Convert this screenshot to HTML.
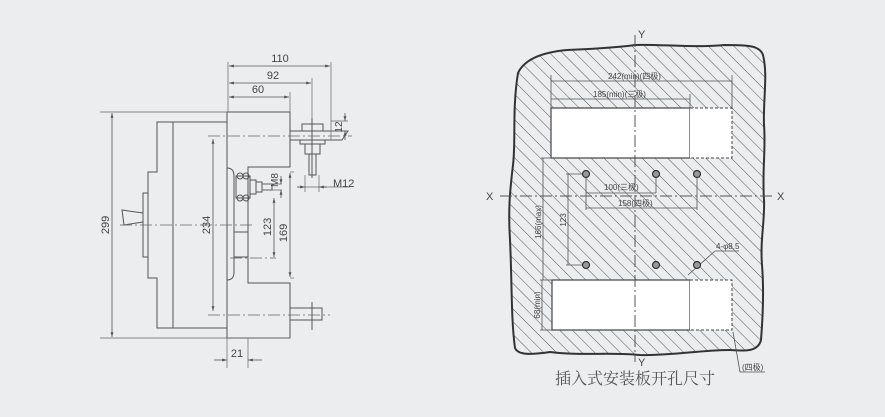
<!DOCTYPE html>
<html><head><meta charset="utf-8"><style>
html,body{margin:0;padding:0;background:#ecedef;}
svg{display:block;}
text{font-family:"Liberation Sans",sans-serif;fill:#444;}
</style></head><body>
<svg width="885" height="417" viewBox="0 0 885 417" xmlns="http://www.w3.org/2000/svg">
<defs>
<pattern id="h" patternUnits="userSpaceOnUse" width="9" height="9" patternTransform="rotate(-45)">
<line x1="0" y1="0" x2="0" y2="9" stroke="#555" stroke-width="1"/>
</pattern>
<marker id="a" viewBox="0 0 10 10" refX="10" refY="5" markerWidth="6" markerHeight="6" orient="auto-start-reverse"><path d="M0,2 L10,5 L0,8z" fill="#555"/></marker>
</defs>
<rect width="885" height="417" fill="#ecedef"/>

<!-- LEFT DRAWING -->
<g stroke="#555" stroke-width="1" fill="none">
<path d="M227,122 H157 V172 H148 V278 H157 V328 H227"/>
<line x1="173" y1="122" x2="173" y2="328"/>
<rect x="143" y="193" width="5" height="64"/>
<path d="M143,213 L122,210 L124,225 L143,222"/>
<path d="M227,112 H290 V167 H248 V283 H290 V338 H227 Z"/>
<path d="M227,168 Q234,168 234,176 V272 Q234,280 227,280"/>
<path d="M290,131 H348 L342,140 H290"/>
<rect x="302" y="124" width="21" height="7"/>
<rect x="300" y="140" width="25" height="4"/>
<rect x="305" y="144" width="15" height="10"/>
<rect x="309" y="154" width="7" height="21"/>
<line x1="312" y1="118" x2="312" y2="178"/>
<rect x="236" y="176" width="14" height="22"/>
<circle cx="240" cy="176" r="3"/><circle cx="246" cy="176" r="3"/>
<circle cx="240" cy="198" r="3"/><circle cx="246" cy="198" r="3"/>
<rect x="250" y="180" width="6" height="14"/>
<rect x="256" y="182" width="6" height="10"/>
<rect x="262" y="184" width="10" height="6"/>
<rect x="290" y="308" width="32" height="12"/>
<line x1="312" y1="302" x2="312" y2="330"/>
<line x1="234" y1="232" x2="248" y2="232"/>
<line x1="234" y1="257" x2="248" y2="257"/>
</g>
<g stroke="#666" stroke-width="0.8" fill="none" stroke-dasharray="12,3,2,3">
<line x1="208" y1="136" x2="352" y2="136"/>
<line x1="120" y1="225" x2="252" y2="225"/>
<line x1="208" y1="315" x2="330" y2="315"/>
<line x1="230" y1="258" x2="276" y2="258"/>
</g>
<g stroke="#666" stroke-width="0.7" fill="none">
<line x1="100" y1="112" x2="227" y2="112"/>
<line x1="100" y1="338" x2="290" y2="338"/>
<line x1="228" y1="62" x2="228" y2="112"/>
<line x1="331" y1="62" x2="331" y2="140"/>
<line x1="312" y1="78" x2="312" y2="118"/>
<line x1="290" y1="92" x2="290" y2="112"/>
<line x1="227" y1="338" x2="227" y2="368"/>
<line x1="248" y1="338" x2="248" y2="368"/>
<line x1="298" y1="187" x2="350" y2="187"/>
<line x1="305" y1="175" x2="305" y2="192"/>
<line x1="319" y1="175" x2="319" y2="192"/>
<line x1="262" y1="184" x2="282" y2="184"/>
<line x1="262" y1="190" x2="282" y2="190"/>
<line x1="331" y1="121" x2="348" y2="121"/>
<line x1="331" y1="131" x2="348" y2="131"/>
<line x1="290" y1="172" x2="294" y2="172"/>
<line x1="290" y1="278" x2="294" y2="278"/>
</g>
<g stroke="#555" stroke-width="0.8" fill="none" marker-start="url(#a)" marker-end="url(#a)">
<line x1="229" y1="66" x2="330" y2="66"/>
<line x1="229" y1="83" x2="311" y2="83"/>
<line x1="229" y1="97" x2="289" y2="97"/>
<line x1="112" y1="113" x2="112" y2="337"/>
<line x1="213" y1="139" x2="213" y2="311"/>
<line x1="274" y1="198" x2="274" y2="257"/>
<line x1="290" y1="173" x2="290" y2="277"/>
</g>
<g stroke="#555" stroke-width="0.8" fill="none">
<line x1="214" y1="360" x2="227" y2="360" marker-end="url(#a)"/>
<line x1="262" y1="360" x2="248" y2="360" marker-end="url(#a)"/>
<line x1="297" y1="187" x2="305" y2="187" marker-end="url(#a)"/>
<line x1="327" y1="187" x2="319" y2="187" marker-end="url(#a)"/>
<line x1="345" y1="113" x2="345" y2="121" marker-end="url(#a)"/>
<line x1="345" y1="140" x2="345" y2="131" marker-end="url(#a)"/>
<line x1="281" y1="176" x2="281" y2="184" marker-end="url(#a)"/>
<line x1="281" y1="198" x2="281" y2="190" marker-end="url(#a)"/>
</g>
<g font-size="11">
<text x="280" y="62" text-anchor="middle">110</text>
<text x="273" y="79" text-anchor="middle">92</text>
<text x="258" y="93" text-anchor="middle">60</text>
<text x="237" y="357" text-anchor="middle">21</text>
<text x="333" y="187">M12</text>
<text transform="translate(109,225) rotate(-90)" text-anchor="middle">299</text>
<text transform="translate(210,225) rotate(-90)" text-anchor="middle">234</text>
<text transform="translate(271,227) rotate(-90)" text-anchor="middle">123</text>
<text transform="translate(287,233) rotate(-90)" text-anchor="middle">169</text>
<text transform="translate(278,180) rotate(-90)" text-anchor="middle" font-size="10">M8</text>
<text transform="translate(342,127) rotate(-90)" text-anchor="middle" font-size="10">12</text>
</g>

<!-- RIGHT DRAWING -->
<path d="M518,73 C525,58 545,52 567,50 C590,49 615,48 635,45 C660,44 690,48 725,45 C750,45 760,46 763,55 C768,75 763,100 764,125 C766,150 762,170 764,200 C765,220 760,240 762,265 C764,290 763,315 761,340 C758,352 745,351 730,350 C700,350 670,356 640,355 C610,352 580,356 550,352 C530,355 518,355 515,348 C511,320 512,280 510,240 C508,210 510,190 513,165 C516,140 512,110 518,73 Z" fill="url(#h)" stroke="#333" stroke-width="2"/>
<g stroke="#444" stroke-width="1.2" fill="#fff">
<rect x="551" y="108" width="139" height="50"/>
<rect x="552" y="280" width="138" height="50"/>
</g>
<g fill="#fff" stroke="none">
<rect x="690" y="108" width="42" height="50"/>
<rect x="690" y="280" width="42" height="50"/>
</g>
<g stroke="#444" stroke-width="1" fill="none" stroke-dasharray="3,2">
<path d="M690,108 H732 V158 H690"/>
<path d="M690,280 H732 V330 H690"/>
</g>
<g stroke="#555" stroke-width="1" fill="none" stroke-dasharray="12,3,2,3">
<line x1="635" y1="35" x2="635" y2="362"/>
<line x1="500" y1="196" x2="775" y2="196"/>
</g>
<g stroke="#555" stroke-width="0.8" fill="none">
<line x1="551" y1="75" x2="551" y2="108"/>
<line x1="732" y1="75" x2="732" y2="108"/>
<line x1="690" y1="94" x2="690" y2="108"/>
<line x1="551" y1="81" x2="732" y2="81"/>
<line x1="551" y1="99" x2="690" y2="99"/>
<line x1="586" y1="174" x2="586" y2="210"/>
<line x1="656" y1="174" x2="656" y2="193"/>
<line x1="697" y1="174" x2="697" y2="210"/>
<line x1="586" y1="193" x2="656" y2="193"/>
<line x1="586" y1="208" x2="697" y2="208"/>
<line x1="566" y1="174" x2="586" y2="174"/>
<line x1="566" y1="265" x2="586" y2="265"/>
<line x1="568" y1="174" x2="568" y2="265"/>
<line x1="541" y1="158" x2="551" y2="158"/>
<line x1="543" y1="158" x2="543" y2="280"/>
<line x1="540" y1="280" x2="552" y2="280"/>
<line x1="540" y1="330" x2="552" y2="330"/>
<line x1="542" y1="280" x2="542" y2="330"/>
<line x1="688" y1="275" x2="715" y2="251"/>
<line x1="715" y1="251" x2="739" y2="251"/>
<path d="M733,332 L740,372 H765"/>
</g>
<g stroke="#333" stroke-width="1.2" fill="#999">
<circle cx="586" cy="174" r="3.5"/><circle cx="656" cy="174" r="3.5"/><circle cx="697" cy="174" r="3.5"/>
<circle cx="586" cy="265" r="3.5"/><circle cx="656" cy="265" r="3.5"/><circle cx="697" cy="265" r="3.5"/>
</g>
<g font-size="8" font-family="Liberation Sans, Noto Sans CJK SC, sans-serif">
<text x="608" y="79">242(min)(四极)</text>
<text x="593" y="97">185(min)(三极)</text>
<text x="604" y="190">100(三极)</text>
<text x="618" y="206">158(四极)</text>
<text x="716" y="249">4-φ8.5</text>
<text x="742" y="370">(四极)</text>
<text transform="translate(566,220) rotate(-90)" text-anchor="middle">123</text>
<text transform="translate(541,222) rotate(-90)" text-anchor="middle">166(max)</text>
<text transform="translate(540,305) rotate(-90)" text-anchor="middle">68(min)</text>
</g>
<g font-size="11">
<text x="638" y="38">Y</text>
<text x="638" y="366">Y</text>
<text x="486" y="200">X</text>
<text x="777" y="200">X</text>
</g>
<text x="635" y="384" text-anchor="middle" font-size="16" fill="#555" style="font-family:'Noto Serif CJK SC',serif;fill:#555">插入式安装板开孔尺寸</text>
</svg>
</body></html>
